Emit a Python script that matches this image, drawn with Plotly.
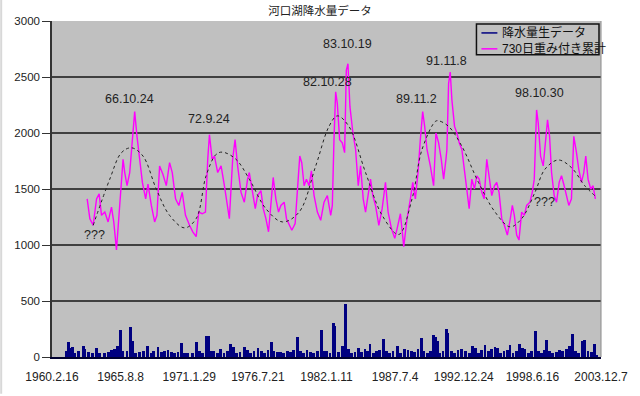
import plotly.graph_objects as go

# ---- axis labels (tick every 2000 days from 1960.2.16) ----
tick_days = [0, 2000, 4000, 6000, 8000, 10000, 12000, 14000, 16000]
tick_labels = ["1960.2.16", "1965.8.8", "1971.1.29", "1976.7.21", "1982.1.11",
               "1987.7.4", "1992.12.24", "1998.6.16", "2003.12.7"]

# ---- daily rainfall (days since 1960.2.16, mm) ----
rain_day = [280, 407, 474, 542, 591, 668, 765, 910, 958, 1055, 1181, 1297, 1394, 1520, 1636, 1733,
            1830, 1907, 2004, 2072, 2188, 2294, 2362, 2439, 2556, 2672, 2788, 2894, 2962, 3088,
            3185, 3282, 3378, 3475, 3572, 3669, 3766, 3862, 3959, 4094, 4210, 4288, 4385, 4510,
            4578, 4646, 4723, 4820, 4917, 5014, 5111, 5207, 5285, 5382, 5478, 5614, 5691, 5788,
            5885, 6001, 6098, 6195, 6292, 6388, 6466, 6563, 6659, 6756, 6853, 6950, 7047, 7163,
            7240, 7337, 7434, 7531, 7627, 7743, 7850, 7918, 8005, 8102, 8199, 8247, 8344, 8460,
            8557, 8635, 8731, 8828, 8925, 9022, 9119, 9196, 9264, 9361, 9457, 9554, 9670, 9748,
            9845, 9941, 10067, 10164, 10280, 10377, 10474, 10571, 10667, 10764, 10842, 10938,
            11035, 11113, 11171, 11229, 11297, 11393, 11490, 11539, 11635, 11732, 11829, 11926,
            12061, 12158, 12254, 12332, 12429, 12525, 12622, 12719, 12816, 12913, 12980, 13077,
            13174, 13271, 13348, 13435, 13532, 13629, 13706, 13784, 13881, 13977, 14094, 14171,
            14268, 14336, 14413, 14500, 14597, 14694, 14791, 14887, 14984, 15081, 15178, 15255,
            15352, 15468, 15526, 15623, 15720, 15817, 15885]
rain_mm = [0, 53, 135, 82, 88, 38, 53, 97, 68, 47, 38, 82, 38, 38, 47, 59,
           68, 97, 244, 53, 53, 265, 147, 38, 47, 53, 97, 38, 53, 88,
           47, 53, 59, 47, 38, 44, 126, 38, 38, 38, 135, 53, 38, 185,
           185, 53, 53, 38, 68, 38, 53, 112, 88, 38, 47, 88, 59, 38,
           53, 82, 53, 38, 59, 135, 53, 44, 47, 38, 53, 47, 59, 176,
           53, 38, 59, 47, 38, 53, 244, 53, 53, 38, 303, 273, 47, 97,
           470, 68, 38, 47, 82, 47, 68, 53, 112, 38, 53, 59, 165, 53,
           38, 53, 94, 38, 68, 59, 53, 47, 68, 171, 53, 38,
           53, 194, 176, 141, 38, 53, 253, 215, 53, 38, 59, 68,
           53, 38, 97, 82, 38, 59, 106, 53, 68, 88, 76, 38,
           53, 59, 103, 38, 53, 118, 82, 68, 38, 53, 229, 53,
           38, 59, 156, 53, 38, 47, 59, 53, 68, 97, 206, 53,
           38, 141, 156, 53, 47, 112, 20]

# ---- 730-day weighted cumulative sum ----
sum_day = [1025, 1103, 1199, 1298, 1374, 1443, 1539, 1635, 1734, 1800, 1879, 1954, 2024, 2071,
           2120, 2187, 2265, 2344, 2410, 2477, 2556, 2634, 2730, 2797, 2895, 2991, 3058, 3136,
           3232, 3331, 3427, 3505, 3601, 3697, 3795, 3891, 4008, 4103, 4202, 4277, 4376, 4472,
           4539, 4588, 4667, 4734, 4829, 4928, 5024, 5102, 5169, 5265, 5335, 5410, 5509, 5605,
           5700, 5750, 5847, 5924, 5992, 6089, 6157, 6234, 6311, 6379, 6447, 6524, 6602, 6670,
           6766, 6834, 6912, 6989, 7086, 7154, 7221, 7279, 7347, 7415, 7492, 7560, 7638, 7734,
           7831, 7928, 8025, 8122, 8170, 8218, 8267, 8315, 8383, 8460, 8528, 8577, 8625, 8683,
           8770, 8848, 8925, 8993, 9070, 9138, 9215, 9283, 9351, 9428, 9525, 9622, 9719, 9796,
           9893, 9990, 10058, 10154, 10251, 10348, 10445, 10513, 10590, 10667, 10735, 10803,
           10861, 10929, 11026, 11122, 11190, 11268, 11345, 11413, 11481, 11509, 11558, 11606,
           11655, 11732, 11800, 11868, 11945, 12022, 12090, 12158, 12235, 12313, 12381, 12448,
           12526, 12594, 12671, 12739, 12816, 12894, 12961, 13029, 13107, 13184, 13271, 13349,
           13416, 13474, 13542, 13610, 13687, 13765, 13833, 13929, 13997, 14055, 14123, 14171,
           14239, 14317, 14384, 14442, 14501, 14559, 14636, 14704, 14781, 14849, 14926, 14994,
           15062, 15139, 15207, 15285, 15352, 15430, 15498, 15556, 15623, 15701, 15769, 15836]
sum_mm = [1412, 1235, 1176, 1412, 1456, 1265, 1294, 1206, 1338, 1206, 956, 1294, 1618, 1765,
          1647, 1530, 1647, 1912, 2191, 1970, 1765, 1559, 1412, 1544, 1353, 1206, 1265, 1706,
          1632, 1530, 1735, 1647, 1412, 1353, 1470, 1265, 1176, 1118, 1074, 1294, 1279, 1294,
          1765, 1985, 1765, 1794, 1647, 1706, 1530, 1353, 1235, 1765, 1941, 1706, 1470, 1382,
          1588, 1647, 1441, 1324, 1441, 1485, 1324, 1235, 1118, 1353, 1603, 1412, 1294, 1353,
          1382, 1235, 1176, 1132, 1191, 1500, 1794, 1735, 1529, 1588, 1529, 1662, 1441, 1294,
          1221, 1382, 1441, 1265, 1353, 1941, 2368, 2265, 1941, 1912, 1824, 2559, 2618, 2235,
          2000, 1853, 1529, 1706, 1412, 1294, 1441, 1588, 1441, 1353, 1176, 1324, 1559, 1294,
          1147, 1059, 1147, 1279, 985, 1235, 1412, 1559, 1412, 1647, 1941, 2191,
          2059, 1853, 1706, 1529, 2000, 1912, 1765, 1588, 1765, 1853, 2441, 2544,
          2294, 2059, 2000, 1912, 1853, 1676, 1529, 1324, 1588, 1500, 1618, 1588,
          1470, 1412, 1765, 1618, 1441, 1529, 1559, 1470, 1235, 1176, 1088, 1221,
          1353, 1265, 1088, 1044, 1294, 1265, 1353, 1382, 1470, 1588, 2206, 2088,
          1794, 1706, 1912, 2118, 1971, 1647, 1441, 1382, 1559, 1618, 1529, 1441,
          1353, 1412, 1971, 1824, 1676, 1559, 1647, 1794, 1588, 1500, 1529, 1412]

# ---- hand-drawn dotted wave ----
wave_day = [1200, 1684, 2023, 2313, 2652, 3039, 3426, 3862, 4201, 4491, 4782, 4975, 5362, 5750,
            6234, 6718, 7202, 7686, 8073, 8315, 8654, 9138, 9622, 10106, 10493, 10784, 11171,
            11267, 11558, 11945, 12429, 12913, 13349, 13687, 14075, 14365, 14752, 15139, 15527, 15817]
wave_mm = [1176, 1588, 1824, 1868, 1794, 1500, 1265, 1153, 1235, 1618, 1809, 1829, 1765, 1588,
           1324, 1206, 1294, 1706, 2059, 2153, 2059, 1647, 1265, 1094, 1412, 1853, 2103,
           2109, 2059, 1882, 1559, 1294, 1162, 1235, 1470, 1676, 1759, 1691, 1529, 1441]

# ---- labels ----
note_text = ["66.10.24", "72.9.24", "82.10.28", "83.10.19", "89.11.2", "91.11.8", "98.10.30", "???", "???"]
note_day = [2265, 4588, 8024, 8625, 10637, 11500, 14221, 1228, 14366]
note_mm = [2305, 2128, 2456, 2793, 2305, 2639, 2358, 1086, 1382]

NAVY = "#000080"
MAGENTA = "#ff00ff"
FONT = "Liberation Sans, Noto Sans CJK JP, sans-serif"

fig = go.Figure()
fig.add_trace(go.Bar(x=rain_day, y=rain_mm, name="降水量生データ", width=80,
                     marker=dict(color=NAVY, line=dict(width=0)), showlegend=False))
fig.add_trace(go.Scatter(x=sum_day, y=sum_mm, mode="lines", name="730日重み付き累計",
                         line=dict(color=MAGENTA, width=1.4), showlegend=False))
fig.add_trace(go.Scatter(x=wave_day, y=wave_mm, mode="lines", name="wave",
                         line=dict(color="#222222", width=1, dash="dot", shape="spline"),
                         showlegend=False))

annotations = []
for t, d, v in zip(note_text, note_day, note_mm):
    annotations.append(dict(x=d, y=v, xref="x", yref="y", text=t, showarrow=False,
                            font=dict(family=FONT, size=12.5, color="#222222")))

# manual legend (box, line samples, texts)
L = dict(x0=(478 - 52) / 551, x1=(601 - 52) / 551, y0=(359 - 55) / 338, y1=(359 - 24) / 338)
shapes = [
    dict(type="rect", xref="paper", yref="paper", **L, fillcolor="#c0c0c0",
         line=dict(color="#111111", width=1.5), layer="above"),
    dict(type="line", xref="paper", yref="paper", x0=(483 - 52) / 551, x1=(499 - 52) / 551,
         y0=(359 - 33) / 338, y1=(359 - 33) / 338, line=dict(color=NAVY, width=1.5)),
    dict(type="line", xref="paper", yref="paper", x0=(483 - 52) / 551, x1=(499 - 52) / 551,
         y0=(359 - 49) / 338, y1=(359 - 49) / 338, line=dict(color=MAGENTA, width=1.5)),
    # thin light border at the left edge of the picture
    dict(type="rect", xref="paper", yref="paper", x0=-52 / 551, x1=-50 / 551,
         y0=-37 / 338, y1=1 + 21 / 338, fillcolor="#d8d8d8", line=dict(width=0)),
    # right edge of the plot area
    dict(type="line", xref="paper", yref="paper", x0=1, x1=1, y0=0, y1=1,
         line=dict(color="#8a8a8a", width=1)),
]
legend_names = ["降水量生データ", "730日重み付き累計"]
for name, ypx in zip(legend_names, [33, 49]):
    annotations.append(dict(x=(502 - 52) / 551, y=(359 - ypx) / 338, xref="paper", yref="paper",
                            text=name, showarrow=False, xanchor="left", yanchor="middle",
                            font=dict(family=FONT, size=12, color="#111111")))

fig.update_layout(
    width=640, height=396,
    margin=dict(l=52, r=37, t=21, b=37),
    paper_bgcolor="white", plot_bgcolor="#c0c0c0",
    title=dict(text="河口湖降水量データ", x=0.5, xanchor="center", y=1 - 11 / 396,
               yanchor="middle", font=dict(family=FONT, size=11.5, color="#222222")),
    font=dict(family=FONT, color="#222222"),
    xaxis=dict(range=[0, 16000], tickvals=tick_days, ticktext=tick_labels,
               showgrid=False, zeroline=False, ticks="outside", ticklen=8,
               tickcolor="rgba(0,0,0,0)", tickfont=dict(size=12),
               showline=True, linecolor="#000030", linewidth=1.5, mirror=False),
    yaxis=dict(range=[0, 3000], dtick=500, showgrid=True, gridcolor="#404040", gridwidth=1.5,
               zeroline=False, ticks="outside", ticklen=8, tickcolor="#333333",
               tickfont=dict(size=11.5), showline=True, linecolor="#333333", linewidth=1.5),
    shapes=shapes, annotations=annotations, showlegend=False, bargap=0,
)

fig.write_html("out.html", config={"displayModeBar": False},
               post_script="document.body.style.margin='0';document.body.style.overflow='hidden';")
